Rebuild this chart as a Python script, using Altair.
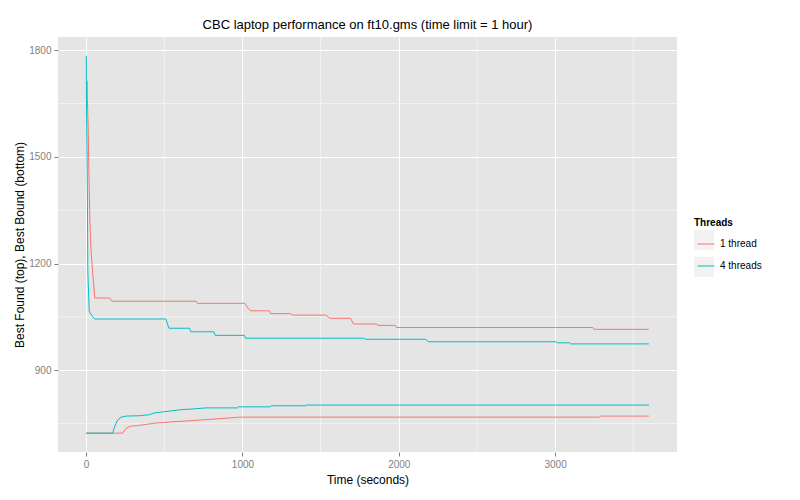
import altair as alt
import pandas as pd

# ---- data ----
red_top_t = [7, 8, 13, 18, 24, 32, 40, 48, 55, 150, 165, 705, 712, 1015, 1040, 1055, 1172, 1180, 1310, 1318, 1533, 1560, 1692, 1710, 1860, 1866, 1979, 1985, 3242, 3250, 3600]
red_top_v = [1714, 1663, 1584, 1450, 1317, 1232, 1185, 1143, 1103, 1103, 1094, 1094, 1088, 1088, 1072, 1067, 1067, 1059, 1059, 1055, 1055, 1046, 1046, 1030, 1030, 1026, 1026, 1020, 1020, 1015, 1015]

cyan_top_t = [1, 2, 7, 11, 20, 30, 45, 55, 510, 530, 662, 670, 817, 825, 1013, 1020, 1777, 1785, 2170, 2190, 3008, 3015, 3093, 3100, 3600]
cyan_top_v = [1784, 1663, 1450, 1176, 1064, 1058, 1049, 1044, 1044, 1018, 1018, 1008, 1008, 998, 998, 990, 990, 987, 987, 980, 980, 977, 977, 974, 974]

red_bot_t = [0, 234, 248, 269, 291, 322, 375, 437, 553, 670, 798, 926, 979, 3285, 3292, 3600]
red_bot_v = [723, 723, 733, 740, 743, 744, 747, 751, 755, 758, 762, 766, 768, 768, 771, 771]

cyan_bot_t = [0, 170, 181, 202, 224, 256, 341, 405, 437, 532, 607, 681, 766, 968, 975, 1178, 1185, 1401, 1408, 3600]
cyan_bot_v = [723, 723, 740, 760, 768, 771, 772, 775, 780, 785, 789, 791, 794, 794, 797, 797, 800, 800, 802, 802]

threads = ["1 thread", "4 threads"]
colors = ["#F8766D", "#00BFC4"]
key_ids = ["key 1", "key 2"]

x_minor = [500, 1500, 2500, 3500]
y_minor = [750, 1050, 1350, 1650]
x_ticks = [0, 1000, 2000, 3000]
y_ticks = [900, 1200, 1500, 1800]

rows = []
for t, v, th, b in [(red_top_t, red_top_v, "1 thread", "top"),
                    (red_bot_t, red_bot_v, "1 thread", "bottom"),
                    (cyan_top_t, cyan_top_v, "4 threads", "top"),
                    (cyan_bot_t, cyan_bot_v, "4 threads", "bottom")]:
    for i, (ti, vi) in enumerate(zip(t, v)):
        rows.append({"time": ti, "value": vi, "threads": th, "bound": b, "idx": i,
                     "key": th + "-" + b,
                     "keybox": key_ids[threads.index(th)]})
df = pd.DataFrame(rows)

xdom = [-180, 3780]
ydom = [670, 1837]
FONT = "Liberation Sans"

xscale = alt.Scale(domain=xdom, nice=False, zero=False)
yscale = alt.Scale(domain=ydom, nice=False, zero=False)

vminor = alt.Chart(pd.DataFrame({"x": x_minor})).mark_rule(color="#F2F2F2", strokeWidth=1).encode(
    x=alt.X("x:Q", scale=xscale))
hminor = alt.Chart(pd.DataFrame({"y": y_minor})).mark_rule(color="#F2F2F2", strokeWidth=1).encode(
    y=alt.Y("y:Q", scale=yscale))

# invisible layer providing the grey legend key boxes
keys = alt.Chart(df).transform_filter("false").mark_square().encode(
    x=alt.X("time:Q", scale=xscale),
    y=alt.Y("value:Q", scale=yscale),
    fill=alt.Fill("keybox:N", scale=alt.Scale(domain=key_ids, range=["#F2F2F2", "#F2F2F2"]),
                  legend=alt.Legend(orient="none", legendX=635, legendY=192, title=None,
                                    labelExpr="''", labelFontSize=10, labelFont=FONT,
                                    symbolType="square", symbolSize=441, symbolStrokeColor="white",
                                    symbolStrokeWidth=1, rowPadding=1, zindex=0,
                                    symbolOpacity=1)),
)

lines = alt.Chart(df).mark_line(strokeWidth=1, interpolate="linear").encode(
    x=alt.X("time:Q", scale=xscale,
            axis=alt.Axis(values=x_ticks, title="Time (seconds)", format="d")),
    y=alt.Y("value:Q", scale=yscale,
            axis=alt.Axis(values=y_ticks, title="Best Found (top), Best Bound (bottom)", format="d")),
    color=alt.Color("threads:N", scale=alt.Scale(domain=threads, range=colors),
                    legend=alt.Legend(orient="none", legendX=636, legendY=181, title="Threads",
                                      titleFontSize=10, titleFont=FONT, titleFontWeight="bold",
                                      labelFontSize=10, labelFont=FONT, labelColor="black",
                                      symbolType="stroke", symbolSize=289, symbolStrokeWidth=1,
                                      rowPadding=8, titlePadding=7, symbolOffset=3, labelOffset=5,
                                      zindex=1)),
    detail="key:N",
    order="idx:Q",
)

chart = alt.layer(vminor, hminor, keys, lines).properties(
    width=619, height=415,
    autosize=alt.AutoSizeParams(type="none"),
    padding={"left": 50, "top": 29, "right": 115, "bottom": 40},
    title=alt.TitleParams("CBC laptop performance on ft10.gms (time limit = 1 hour)",
                          font=FONT, fontSize=13, fontWeight="normal", color="black",
                          anchor="middle", offset=5),
).configure_view(
    fill="#E5E5E5", stroke=None
).configure_axis(
    grid=True, gridColor="white", gridWidth=1, domain=False,
    tickColor="#7F7F7F", tickSize=4, labelColor="#7F7F7F", labelFont=FONT, labelFontSize=10,
    labelPadding=3, titleFont=FONT, titleFontSize=12, titleFontWeight="normal", titleColor="black",
).configure_axisX(titlePadding=5).configure_axisY(titlePadding=2)

chart.save("out.html", embed_options={"renderer": "svg", "actions": False})
